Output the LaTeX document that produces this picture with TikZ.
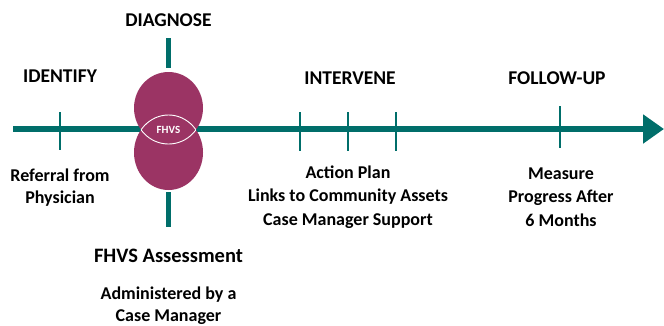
\documentclass[tikz,border=0pt]{standalone}
\usepackage{fontspec}
\setmainfont{Carlito}
\usetikzlibrary{arrows.meta}
\definecolor{timeteal}{RGB}{0,110,106}
\definecolor{fhvsplum}{RGB}{155,52,100}
\begin{document}
\begin{tikzpicture}[x=1pt,y=-1pt,
  phase/.style={font=\bfseries\fontsize{19.5}{22}\selectfont,inner sep=0pt},
  note/.style={font=\bfseries\fontsize{18}{23.3}\selectfont,align=center,inner sep=0pt},
  tick/.style={draw=timeteal,line width=2.6pt},
  stem/.style={draw=timeteal,line width=5pt},
  lobe/.style={fill=fhvsplum,draw=none}]
\useasboundingbox (0,0) rectangle (664,325);

% timeline axis
\coordinate (axisstart) at (13,129);
\coordinate (axisend) at (664,129);
\draw[draw=timeteal,line width=6pt,-{Triangle[length=21pt,width=28pt]}] (axisstart) -- (axisend);

% ticks
\foreach \nm/\x/\ya/\yb in {t1/60/112/150,t2/300/112/151,t3/348/112/151,t4/396/112/151,t5/560/106/148}{
  \coordinate (\nm a) at (\x,\ya);
  \coordinate (\nm b) at (\x,\yb);
  \draw[tick] (\nm a) -- (\nm b);
}

% diagnose stems
\coordinate (stemtopa) at (168.5,38);
\coordinate (stemtopb) at (168.5,68);
\coordinate (stembota) at (168.5,192);
\coordinate (stembotb) at (168.5,227);
\draw[stem] (stemtopa) -- (stemtopb);
\draw[stem] (stembota) -- (stembotb);

% FHVS lobes
\fill[lobe] (168.5,108) ellipse [x radius=34.5,y radius=36];
\fill[lobe] (168.5,152.5) ellipse [x radius=34.5,y radius=37.5];
\begin{scope}
  \clip (168.5,152.5) ellipse [x radius=34.5,y radius=37.5];
  \draw[white,line width=0.9pt] (168.5,108) ellipse [x radius=34.5,y radius=36];
\end{scope}
\begin{scope}
  \clip (168.5,108) ellipse [x radius=34.5,y radius=36];
  \draw[white,line width=0.9pt] (168.5,152.5) ellipse [x radius=34.5,y radius=37.5];
\end{scope}
\node[white,font=\bfseries\fontsize{11}{13}\selectfont] (fhvs) at (168.5,129.5) {FHVS};

% phase headings
\node[phase] (identify) at (60,76) {IDENTIFY};
\node[phase] (diagnose) at (168.5,20) {DIAGNOSE};
\node[phase] (intervene) at (350,78) {INTERVENE};
\node[phase] (followup) at (557,78) {FOLLOW-UP};

% descriptions
\node[note,font=\bfseries\fontsize{18}{22}\selectfont] (referral) at (60,188) {Referral from\\Physician};
\node[note,font=\bfseries\fontsize{20.5}{24}\selectfont] (assess) at (168.5,256) {FHVS Assessment};
\node[note,font=\bfseries\fontsize{18}{22}\selectfont] (admin) at (168.5,305.5) {Administered by a\\Case Manager};
\node[note] (actions) at (348,197) {Action Plan\\Links to Community Assets\\Case Manager Support};
\node[note] (measure) at (561,197) {Measure\\Progress After\\6 Months};
\end{tikzpicture}
\end{document}
